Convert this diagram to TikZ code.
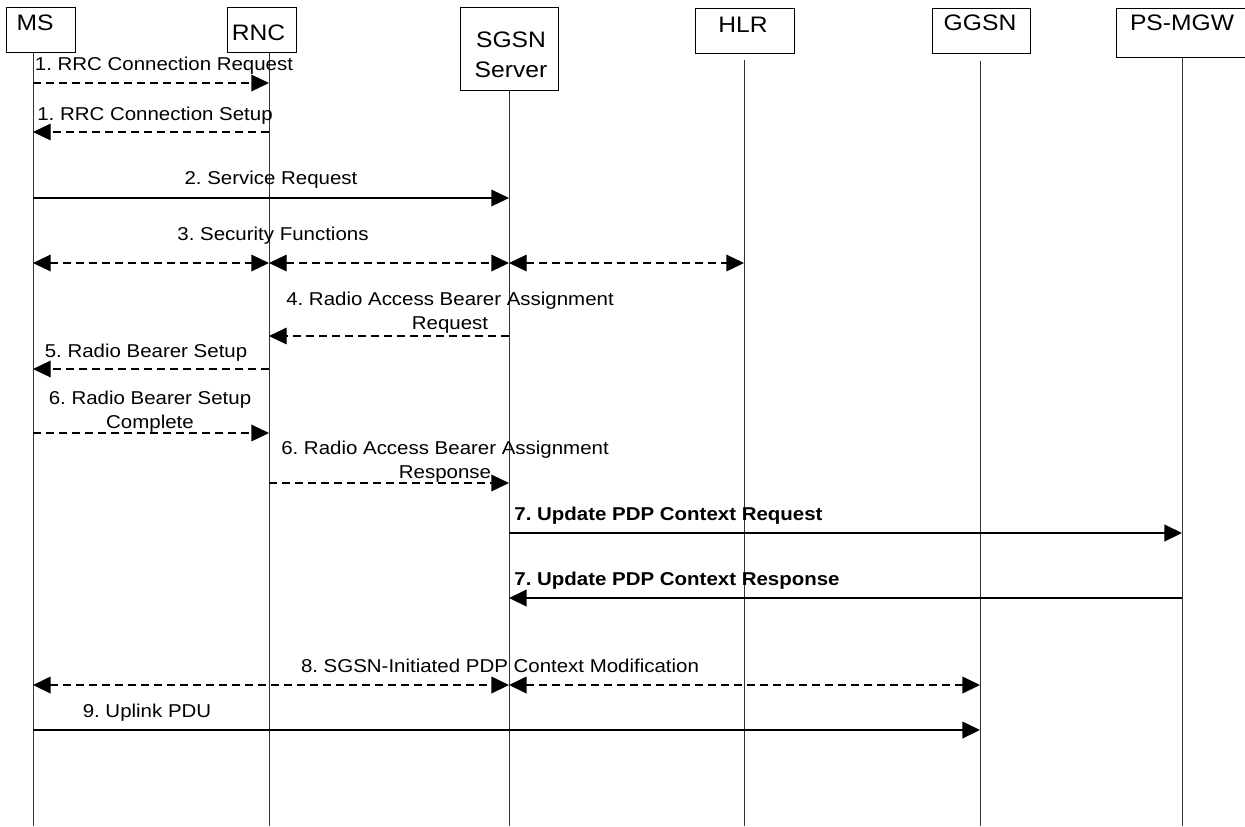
\documentclass[tikz,border=0pt]{standalone}
\usepackage{fontspec}
\setmainfont{Liberation Sans}[FakeStretch=1.1]
\usetikzlibrary{arrows.meta}
\frenchspacing

\tikzset{
  entity/.style={draw, line width=0.5pt, inner sep=0pt, minimum height=22.5pt},
  headtxt/.style={inner sep=0pt, font=\fontsize{11.2pt}{15pt}\selectfont},
  lifeline/.style={line width=0.5pt, draw=black!80},
  msg/.style={line width=0.6pt, -{Triangle[length=8.8pt,width=8.3pt]}},
  async/.style={msg, dash pattern=on 4pt off 2.5pt},
  dasync/.style={async, {Triangle[length=8.8pt,width=8.3pt]}-{Triangle[length=8.8pt,width=8.3pt]}},
  lbl/.style={inner sep=0pt, font=\fontsize{9.3pt}{12pt}\selectfont},
}

\begin{document}
\begin{tikzpicture}[x=0.5pt, y=-0.5pt]
  \useasboundingbox (0,0) rectangle (1245,826);
  \clip (0,0) rectangle (1245,826);

  \node[entity, minimum width=34.5pt,
    label={[headtxt, xshift=-2.75pt, yshift=3.25pt]center:MS}] (ms) at (40.5,29.5) {};
  \node[entity, minimum width=34.5pt,
    label={[headtxt, xshift=-1.5pt, yshift=-1.75pt]center:RNC}] (rnc) at (261.5,29.5) {};
  \node[entity, minimum width=49pt, minimum height=41.5pt,
    label={[headtxt, align=center, xshift=1pt, yshift=-3.25pt]center:{SGSN\\Server}}] (sgsn) at (509,48.5) {};
  \node[entity, minimum width=49.5pt,
    label={[headtxt, xshift=-0.75pt, yshift=2.75pt]center:HLR}] (hlr) at (744.5,30.5) {};
  \node[entity, minimum width=49pt,
    label={[headtxt, xshift=-0.5pt, yshift=3.75pt]center:GGSN}] (ggsn) at (981,30.5) {};
  \node[entity, minimum width=72pt, minimum height=24.5pt,
    label={[headtxt, xshift=-3pt, yshift=4.75pt]center:PS-MGW}] (mgw) at (1188,32.5) {};

  \coordinate (ms-b) at (33,826);
  \coordinate (rnc-b) at (269,826);
  \coordinate (sgsn-b) at (509,826);
  \coordinate (hlr-b) at (744,826);
  \coordinate (ggsn-b) at (980,826);
  \coordinate (mgw-b) at (1182,826);

  \draw[lifeline] (ms.south -| ms-b) -- (ms-b);
  \draw[lifeline] (rnc.south -| rnc-b) -- (rnc-b);
  \draw[lifeline] (sgsn.south -| sgsn-b) -- (sgsn-b);
  \draw[lifeline] ([yshift=-3pt]hlr.south -| hlr-b) -- (hlr-b);
  \draw[lifeline] ([yshift=-3.5pt]ggsn.south -| ggsn-b) -- (ggsn-b);
  \draw[lifeline] (mgw.south -| mgw-b) -- (mgw-b);

  \foreach \n/\y in {1/83, 2/132, 3/198, 4/263, 5/336, 6/369, 7/433, 8/483, 9/533, 10/598, 11/685, 12/730}
    \coordinate (r\n) at (0,\y);

  \draw[async] (ms-b |- r1) -- (rnc-b |- r1);
  \node[lbl, anchor=base] (l1) at (164,70) {1. RRC Connection Request};
  \draw[async] (rnc-b |- r2) -- (ms-b |- r2);
  \node[lbl, anchor=base] (l2) at (155,120) {1. RRC Connection Setup};
  \draw[msg] (ms-b |- r3) -- (sgsn-b |- r3);
  \node[lbl, anchor=base] (l3) at (271,184) {2. Service Request};
  \draw[dasync] (ms-b |- r4) -- (rnc-b |- r4);
  \draw[dasync] (rnc-b |- r4) -- (sgsn-b |- r4);
  \draw[dasync] (sgsn-b |- r4) -- (hlr-b |- r4);
  \node[lbl, anchor=base] (l4) at (273,240) {3. Security Functions};
  \draw[async] (sgsn-b |- r5) -- (rnc-b |- r5);
  \node[lbl, anchor=north, align=center] (l5) at (450,292) {4. Radio Access Bearer Assignment\\Request};
  \draw[async] (rnc-b |- r6) -- (ms-b |- r6);
  \node[lbl, anchor=base] (l6) at (146,357) {5. Radio Bearer Setup};
  \draw[async] (ms-b |- r7) -- (rnc-b |- r7);
  \node[lbl, anchor=north, align=center] (l7) at (150,391) {6. Radio Bearer Setup\\Complete};
  \draw[async] (rnc-b |- r8) -- (sgsn-b |- r8);
  \node[lbl, anchor=north, align=center] (l8) at (445,441) {6. Radio Access Bearer Assignment\\Response};
  \draw[msg, line width=1pt] (sgsn-b |- r9) -- (mgw-b |- r9);
  \node[lbl, anchor=base west, font=\fontsize{9.3pt}{12pt}\selectfont\bfseries] (l9) at (514,520) {7. Update PDP Context Request};
  \draw[msg, line width=1pt] (mgw-b |- r10) -- (sgsn-b |- r10);
  \node[lbl, anchor=base west, font=\fontsize{9.3pt}{12pt}\selectfont\bfseries] (l10) at (514,585) {7. Update PDP Context Response};
  \draw[dasync, line width=0.9pt] (ms-b |- r11) -- (sgsn-b |- r11);
  \draw[dasync, line width=0.9pt] (sgsn-b |- r11) -- (ggsn-b |- r11);
  \node[lbl, anchor=base] (l11) at (500,672) {8. SGSN-Initiated PDP Context Modification};
  \draw[msg, line width=0.9pt] (ms-b |- r12) -- (ggsn-b |- r12);
  \node[lbl, anchor=base] (l12) at (147,717) {9. Uplink PDU};
\end{tikzpicture}
\end{document}
